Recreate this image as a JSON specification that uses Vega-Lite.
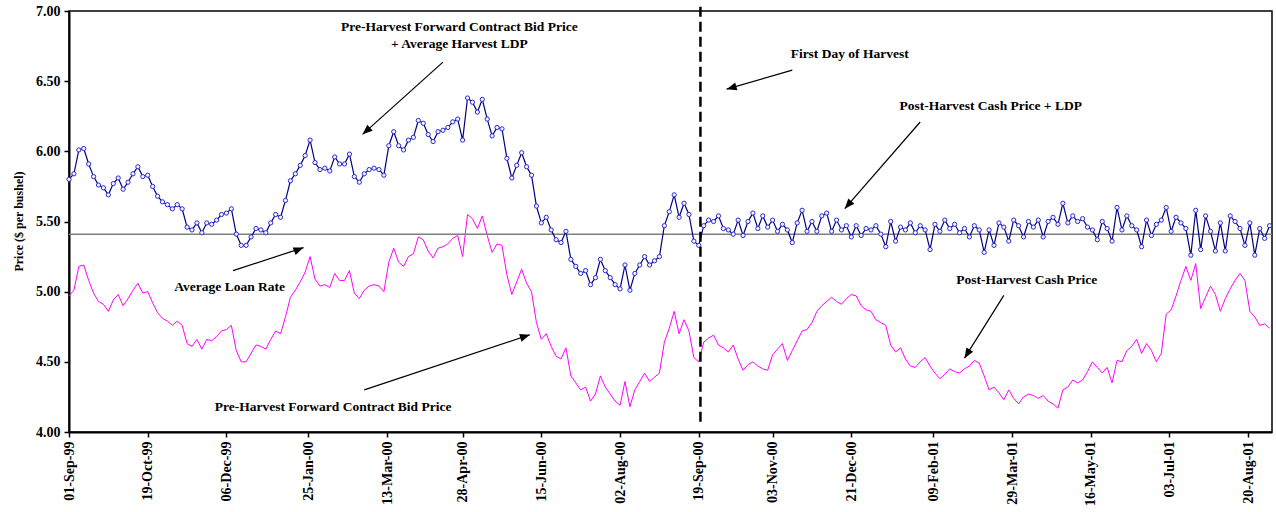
{
  "$schema": "https://vega.github.io/schema/vega-lite/v6.json",
  "width": 1203,
  "height": 421,
  "autosize": {"type": "none"},
  "padding": {"left": 69, "top": 11, "right": 4, "bottom": 80},
  "background": "white",
  "config": {
    "view": {"stroke": "black", "strokeWidth": 1.5},
    "axis": {
      "labelFont": "Liberation Serif", "labelFontWeight": "bold", "labelColor": "black",
      "titleFont": "Liberation Serif", "titleFontWeight": "bold", "titleColor": "black",
      "domainColor": "black", "domainWidth": 2, "tickColor": "black", "tickWidth": 1.5,
      "tickSize": 5, "grid": false
    },
    "text": {"font": "Liberation Serif", "fontWeight": "bold", "fontSize": 13.5, "color": "black"}
  },
  "datasets": {
    "prices": [
      {"date":"1999-09-01","magenta":4.97,"blue":5.80},
      {"date":"1999-09-04","magenta":5.01,"blue":5.84},
      {"date":"1999-09-07","magenta":5.18,"blue":6.01},
      {"date":"1999-09-10","magenta":5.19,"blue":6.02},
      {"date":"1999-09-13","magenta":5.08,"blue":5.91},
      {"date":"1999-09-16","magenta":4.99,"blue":5.82},
      {"date":"1999-09-19","magenta":4.93,"blue":5.76},
      {"date":"1999-09-22","magenta":4.91,"blue":5.74},
      {"date":"1999-09-25","magenta":4.86,"blue":5.69},
      {"date":"1999-09-28","magenta":4.94,"blue":5.77},
      {"date":"1999-10-01","magenta":4.98,"blue":5.81},
      {"date":"1999-10-04","magenta":4.90,"blue":5.73},
      {"date":"1999-10-07","magenta":4.95,"blue":5.78},
      {"date":"1999-10-10","magenta":5.01,"blue":5.84},
      {"date":"1999-10-13","magenta":5.06,"blue":5.89},
      {"date":"1999-10-16","magenta":4.99,"blue":5.82},
      {"date":"1999-10-19","magenta":5.00,"blue":5.83},
      {"date":"1999-10-22","magenta":4.92,"blue":5.75},
      {"date":"1999-10-25","magenta":4.85,"blue":5.68},
      {"date":"1999-10-28","magenta":4.81,"blue":5.64},
      {"date":"1999-10-31","magenta":4.79,"blue":5.62},
      {"date":"1999-11-03","magenta":4.76,"blue":5.59},
      {"date":"1999-11-06","magenta":4.79,"blue":5.62},
      {"date":"1999-11-09","magenta":4.76,"blue":5.59},
      {"date":"1999-11-12","magenta":4.63,"blue":5.46},
      {"date":"1999-11-15","magenta":4.61,"blue":5.44},
      {"date":"1999-11-18","magenta":4.66,"blue":5.49},
      {"date":"1999-11-21","magenta":4.59,"blue":5.42},
      {"date":"1999-11-24","magenta":4.66,"blue":5.49},
      {"date":"1999-11-27","magenta":4.65,"blue":5.48},
      {"date":"1999-11-30","magenta":4.68,"blue":5.51},
      {"date":"1999-12-03","magenta":4.72,"blue":5.55},
      {"date":"1999-12-06","magenta":4.73,"blue":5.56},
      {"date":"1999-12-09","magenta":4.76,"blue":5.59},
      {"date":"1999-12-12","magenta":4.58,"blue":5.41},
      {"date":"1999-12-15","magenta":4.50,"blue":5.33},
      {"date":"1999-12-18","magenta":4.50,"blue":5.33},
      {"date":"1999-12-21","magenta":4.56,"blue":5.39},
      {"date":"1999-12-24","magenta":4.62,"blue":5.45},
      {"date":"1999-12-27","magenta":4.61,"blue":5.44},
      {"date":"1999-12-30","magenta":4.59,"blue":5.42},
      {"date":"2000-01-02","magenta":4.66,"blue":5.49},
      {"date":"2000-01-05","magenta":4.72,"blue":5.55},
      {"date":"2000-01-08","magenta":4.70,"blue":5.53},
      {"date":"2000-01-11","magenta":4.82,"blue":5.65},
      {"date":"2000-01-14","magenta":4.96,"blue":5.79},
      {"date":"2000-01-17","magenta":5.01,"blue":5.84},
      {"date":"2000-01-20","magenta":5.07,"blue":5.90},
      {"date":"2000-01-23","magenta":5.14,"blue":5.97},
      {"date":"2000-01-26","magenta":5.25,"blue":6.08},
      {"date":"2000-01-29","magenta":5.09,"blue":5.92},
      {"date":"2000-02-01","magenta":5.04,"blue":5.87},
      {"date":"2000-02-04","magenta":5.05,"blue":5.88},
      {"date":"2000-02-07","magenta":5.03,"blue":5.86},
      {"date":"2000-02-10","magenta":5.13,"blue":5.96},
      {"date":"2000-02-13","magenta":5.08,"blue":5.91},
      {"date":"2000-02-16","magenta":5.08,"blue":5.91},
      {"date":"2000-02-19","magenta":5.15,"blue":5.98},
      {"date":"2000-02-22","magenta":4.99,"blue":5.82},
      {"date":"2000-02-25","magenta":4.95,"blue":5.78},
      {"date":"2000-02-28","magenta":5.01,"blue":5.84},
      {"date":"2000-03-02","magenta":5.04,"blue":5.87},
      {"date":"2000-03-05","magenta":5.05,"blue":5.88},
      {"date":"2000-03-08","magenta":5.04,"blue":5.87},
      {"date":"2000-03-11","magenta":5.00,"blue":5.83},
      {"date":"2000-03-14","magenta":5.21,"blue":6.04},
      {"date":"2000-03-17","magenta":5.31,"blue":6.14},
      {"date":"2000-03-20","magenta":5.21,"blue":6.04},
      {"date":"2000-03-23","magenta":5.18,"blue":6.01},
      {"date":"2000-03-26","magenta":5.25,"blue":6.08},
      {"date":"2000-03-29","magenta":5.27,"blue":6.10},
      {"date":"2000-04-01","magenta":5.39,"blue":6.22},
      {"date":"2000-04-04","magenta":5.37,"blue":6.20},
      {"date":"2000-04-07","magenta":5.29,"blue":6.12},
      {"date":"2000-04-10","magenta":5.24,"blue":6.07},
      {"date":"2000-04-13","magenta":5.31,"blue":6.14},
      {"date":"2000-04-16","magenta":5.32,"blue":6.15},
      {"date":"2000-04-19","magenta":5.34,"blue":6.17},
      {"date":"2000-04-22","magenta":5.38,"blue":6.21},
      {"date":"2000-04-25","magenta":5.40,"blue":6.23},
      {"date":"2000-04-28","magenta":5.25,"blue":6.08},
      {"date":"2000-05-01","magenta":5.55,"blue":6.38},
      {"date":"2000-05-04","magenta":5.52,"blue":6.35},
      {"date":"2000-05-07","magenta":5.45,"blue":6.28},
      {"date":"2000-05-10","magenta":5.54,"blue":6.37},
      {"date":"2000-05-13","magenta":5.40,"blue":6.23},
      {"date":"2000-05-16","magenta":5.28,"blue":6.11},
      {"date":"2000-05-19","magenta":5.34,"blue":6.17},
      {"date":"2000-05-22","magenta":5.33,"blue":6.16},
      {"date":"2000-05-25","magenta":5.12,"blue":5.95},
      {"date":"2000-05-28","magenta":4.98,"blue":5.81},
      {"date":"2000-05-31","magenta":5.07,"blue":5.90},
      {"date":"2000-06-03","magenta":5.16,"blue":5.99},
      {"date":"2000-06-06","magenta":5.06,"blue":5.89},
      {"date":"2000-06-09","magenta":5.00,"blue":5.83},
      {"date":"2000-06-12","magenta":4.78,"blue":5.61},
      {"date":"2000-06-15","magenta":4.66,"blue":5.49},
      {"date":"2000-06-18","magenta":4.70,"blue":5.53},
      {"date":"2000-06-21","magenta":4.61,"blue":5.44},
      {"date":"2000-06-24","magenta":4.54,"blue":5.37},
      {"date":"2000-06-27","magenta":4.52,"blue":5.35},
      {"date":"2000-06-30","magenta":4.60,"blue":5.43},
      {"date":"2000-07-03","magenta":4.40,"blue":5.23},
      {"date":"2000-07-06","magenta":4.35,"blue":5.18},
      {"date":"2000-07-09","magenta":4.30,"blue":5.13},
      {"date":"2000-07-12","magenta":4.32,"blue":5.15},
      {"date":"2000-07-15","magenta":4.22,"blue":5.05},
      {"date":"2000-07-18","magenta":4.27,"blue":5.10},
      {"date":"2000-07-21","magenta":4.40,"blue":5.23},
      {"date":"2000-07-24","magenta":4.32,"blue":5.15},
      {"date":"2000-07-27","magenta":4.27,"blue":5.10},
      {"date":"2000-07-30","magenta":4.22,"blue":5.05},
      {"date":"2000-08-02","magenta":4.19,"blue":5.02},
      {"date":"2000-08-05","magenta":4.36,"blue":5.19},
      {"date":"2000-08-08","magenta":4.18,"blue":5.01},
      {"date":"2000-08-11","magenta":4.30,"blue":5.13},
      {"date":"2000-08-14","magenta":4.36,"blue":5.19},
      {"date":"2000-08-17","magenta":4.42,"blue":5.25},
      {"date":"2000-08-20","magenta":4.36,"blue":5.19},
      {"date":"2000-08-23","magenta":4.39,"blue":5.22},
      {"date":"2000-08-26","magenta":4.42,"blue":5.25},
      {"date":"2000-08-29","magenta":4.64,"blue":5.47},
      {"date":"2000-09-01","magenta":4.74,"blue":5.57},
      {"date":"2000-09-04","magenta":4.86,"blue":5.69},
      {"date":"2000-09-07","magenta":4.70,"blue":5.53},
      {"date":"2000-09-10","magenta":4.80,"blue":5.63},
      {"date":"2000-09-13","magenta":4.72,"blue":5.55},
      {"date":"2000-09-16","magenta":4.53,"blue":5.36},
      {"date":"2000-09-19","magenta":4.50,"blue":5.33},
      {"date":"2000-09-22","magenta":4.64,"blue":5.47},
      {"date":"2000-09-25","magenta":4.67,"blue":5.51},
      {"date":"2000-09-28","magenta":4.69,"blue":5.50},
      {"date":"2000-10-01","magenta":4.62,"blue":5.54},
      {"date":"2000-10-04","magenta":4.60,"blue":5.45},
      {"date":"2000-10-07","magenta":4.57,"blue":5.44},
      {"date":"2000-10-10","magenta":4.62,"blue":5.41},
      {"date":"2000-10-13","magenta":4.52,"blue":5.51},
      {"date":"2000-10-16","magenta":4.44,"blue":5.40},
      {"date":"2000-10-19","magenta":4.48,"blue":5.50},
      {"date":"2000-10-22","magenta":4.50,"blue":5.56},
      {"date":"2000-10-25","magenta":4.47,"blue":5.45},
      {"date":"2000-10-28","magenta":4.45,"blue":5.54},
      {"date":"2000-10-31","magenta":4.44,"blue":5.46},
      {"date":"2000-11-03","magenta":4.55,"blue":5.51},
      {"date":"2000-11-06","magenta":4.59,"blue":5.43},
      {"date":"2000-11-09","magenta":4.63,"blue":5.48},
      {"date":"2000-11-12","magenta":4.51,"blue":5.44},
      {"date":"2000-11-15","magenta":4.58,"blue":5.35},
      {"date":"2000-11-18","magenta":4.65,"blue":5.49},
      {"date":"2000-11-21","magenta":4.72,"blue":5.58},
      {"date":"2000-11-24","magenta":4.73,"blue":5.43},
      {"date":"2000-11-27","magenta":4.78,"blue":5.50},
      {"date":"2000-11-30","magenta":4.86,"blue":5.43},
      {"date":"2000-12-03","magenta":4.90,"blue":5.54},
      {"date":"2000-12-06","magenta":4.93,"blue":5.56},
      {"date":"2000-12-09","magenta":4.96,"blue":5.43},
      {"date":"2000-12-12","magenta":4.93,"blue":5.51},
      {"date":"2000-12-15","magenta":4.91,"blue":5.44},
      {"date":"2000-12-18","magenta":4.95,"blue":5.47},
      {"date":"2000-12-21","magenta":4.98,"blue":5.39},
      {"date":"2000-12-24","magenta":4.97,"blue":5.47},
      {"date":"2000-12-27","magenta":4.90,"blue":5.40},
      {"date":"2000-12-30","magenta":4.87,"blue":5.45},
      {"date":"2001-01-02","magenta":4.86,"blue":5.44},
      {"date":"2001-01-05","magenta":4.80,"blue":5.47},
      {"date":"2001-01-08","magenta":4.78,"blue":5.41},
      {"date":"2001-01-11","magenta":4.76,"blue":5.32},
      {"date":"2001-01-14","magenta":4.62,"blue":5.50},
      {"date":"2001-01-17","magenta":4.57,"blue":5.36},
      {"date":"2001-01-20","magenta":4.60,"blue":5.46},
      {"date":"2001-01-23","magenta":4.52,"blue":5.44},
      {"date":"2001-01-26","magenta":4.47,"blue":5.49},
      {"date":"2001-01-29","magenta":4.46,"blue":5.42},
      {"date":"2001-02-01","magenta":4.50,"blue":5.47},
      {"date":"2001-02-04","magenta":4.53,"blue":5.44},
      {"date":"2001-02-07","magenta":4.47,"blue":5.30},
      {"date":"2001-02-10","magenta":4.42,"blue":5.48},
      {"date":"2001-02-13","magenta":4.38,"blue":5.43},
      {"date":"2001-02-16","magenta":4.41,"blue":5.51},
      {"date":"2001-02-19","magenta":4.45,"blue":5.45},
      {"date":"2001-02-22","magenta":4.43,"blue":5.48},
      {"date":"2001-02-25","magenta":4.42,"blue":5.42},
      {"date":"2001-02-28","magenta":4.45,"blue":5.45},
      {"date":"2001-03-03","magenta":4.47,"blue":5.39},
      {"date":"2001-03-06","magenta":4.51,"blue":5.47},
      {"date":"2001-03-09","magenta":4.49,"blue":5.44},
      {"date":"2001-03-12","magenta":4.40,"blue":5.28},
      {"date":"2001-03-15","magenta":4.30,"blue":5.44},
      {"date":"2001-03-18","magenta":4.32,"blue":5.33},
      {"date":"2001-03-21","magenta":4.28,"blue":5.49},
      {"date":"2001-03-24","magenta":4.23,"blue":5.46},
      {"date":"2001-03-27","magenta":4.30,"blue":5.36},
      {"date":"2001-03-30","magenta":4.24,"blue":5.51},
      {"date":"2001-04-02","magenta":4.20,"blue":5.47},
      {"date":"2001-04-05","magenta":4.25,"blue":5.39},
      {"date":"2001-04-08","magenta":4.27,"blue":5.50},
      {"date":"2001-04-11","magenta":4.26,"blue":5.46},
      {"date":"2001-04-14","magenta":4.24,"blue":5.51},
      {"date":"2001-04-17","magenta":4.26,"blue":5.39},
      {"date":"2001-04-20","magenta":4.22,"blue":5.50},
      {"date":"2001-04-23","magenta":4.20,"blue":5.53},
      {"date":"2001-04-26","magenta":4.17,"blue":5.48},
      {"date":"2001-04-29","magenta":4.30,"blue":5.63},
      {"date":"2001-05-02","magenta":4.32,"blue":5.49},
      {"date":"2001-05-05","magenta":4.37,"blue":5.54},
      {"date":"2001-05-08","magenta":4.35,"blue":5.50},
      {"date":"2001-05-11","magenta":4.37,"blue":5.52},
      {"date":"2001-05-14","magenta":4.43,"blue":5.46},
      {"date":"2001-05-17","magenta":4.50,"blue":5.44},
      {"date":"2001-05-20","magenta":4.46,"blue":5.37},
      {"date":"2001-05-23","magenta":4.42,"blue":5.50},
      {"date":"2001-05-26","magenta":4.46,"blue":5.45},
      {"date":"2001-05-29","magenta":4.35,"blue":5.36},
      {"date":"2001-06-01","magenta":4.51,"blue":5.60},
      {"date":"2001-06-04","magenta":4.50,"blue":5.44},
      {"date":"2001-06-07","magenta":4.58,"blue":5.54},
      {"date":"2001-06-10","magenta":4.61,"blue":5.47},
      {"date":"2001-06-13","magenta":4.66,"blue":5.44},
      {"date":"2001-06-16","magenta":4.56,"blue":5.32},
      {"date":"2001-06-19","magenta":4.63,"blue":5.51},
      {"date":"2001-06-22","magenta":4.58,"blue":5.40},
      {"date":"2001-06-25","magenta":4.50,"blue":5.48},
      {"date":"2001-06-28","magenta":4.56,"blue":5.51},
      {"date":"2001-07-01","magenta":4.84,"blue":5.60},
      {"date":"2001-07-04","magenta":4.87,"blue":5.43},
      {"date":"2001-07-07","magenta":4.97,"blue":5.53},
      {"date":"2001-07-10","magenta":5.08,"blue":5.49},
      {"date":"2001-07-13","magenta":5.18,"blue":5.45},
      {"date":"2001-07-16","magenta":5.08,"blue":5.26},
      {"date":"2001-07-19","magenta":5.20,"blue":5.58},
      {"date":"2001-07-22","magenta":4.88,"blue":5.30},
      {"date":"2001-07-25","magenta":4.96,"blue":5.54},
      {"date":"2001-07-28","magenta":5.04,"blue":5.43},
      {"date":"2001-07-31","magenta":4.98,"blue":5.29},
      {"date":"2001-08-03","magenta":4.86,"blue":5.49},
      {"date":"2001-08-06","magenta":4.95,"blue":5.29},
      {"date":"2001-08-09","magenta":5.02,"blue":5.54},
      {"date":"2001-08-12","magenta":5.08,"blue":5.50},
      {"date":"2001-08-15","magenta":5.13,"blue":5.45},
      {"date":"2001-08-18","magenta":5.08,"blue":5.33},
      {"date":"2001-08-21","magenta":4.86,"blue":5.49},
      {"date":"2001-08-24","magenta":4.82,"blue":5.26},
      {"date":"2001-08-27","magenta":4.76,"blue":5.45},
      {"date":"2001-08-30","magenta":4.77,"blue":5.38},
      {"date":"2001-09-02","magenta":4.74,"blue":5.47}
    ],
    "notes": [
      {"label":"Pre-Harvest Forward Contract Bid Price","date":"2000-04-26","value":6.886},
      {"label":"+  Average Harvest LDP","date":"2000-04-26","value":6.764},
      {"label":"First Day of Harvest","date":"2000-12-20","value":6.693},
      {"label":"Post-Harvest Cash Price + LDP","date":"2001-03-16","value":6.324},
      {"label":"Average Loan Rate","date":"1999-12-08","value":5.031},
      {"label":"Pre-Harvest Forward Contract Bid Price","date":"2000-02-09","value":4.181},
      {"label":"Post-Harvest Cash Price","date":"2001-04-07","value":5.086}
    ],
    "arrows": [
      {"id":1,"date":"2000-04-16","value":6.636,"date2":"2000-02-27","value2":6.121},
      {"id":2,"date":"2000-11-15","value":6.579,"date2":"2000-10-06","value2":6.443},
      {"id":3,"date":"2001-02-01","value":6.209,"date2":"2000-12-17","value2":5.591},
      {"id":4,"date":"1999-12-10","value":5.15,"date2":"2000-01-22","value2":5.314},
      {"id":5,"date":"2000-02-28","value":4.30,"date2":"2000-06-08","value2":4.693},
      {"id":6,"date":"2001-03-24","value":4.974,"date2":"2001-02-28","value2":4.526}
    ]
  },
  "layer": [
    {
      "data": {"name": "prices"},
      "mark": {"type": "line", "color": "#ff00ff", "strokeWidth": 1},
      "encoding": {
        "x": {
          "field": "date", "type": "temporal",
          "scale": {"type": "utc", "nice": false, "domain": [
            {"year": 1999, "month": 9, "date": 1, "utc": true},
            {"year": 2001, "month": 9, "date": 3, "hours": 12, "utc": true}
          ]},
          "axis": {
            "title": null,
            "labelExpr": "utcFormat(datum.value, '%d-%b-%y')",
            "labelAngle": 270, "labelFontSize": 14, "labelPadding": 4,
            "values": [
              {"year": 1999, "month": 9, "date": 1, "utc": true},
              {"year": 1999, "month": 10, "date": 19, "utc": true},
              {"year": 1999, "month": 12, "date": 6, "utc": true},
              {"year": 2000, "month": 1, "date": 25, "utc": true},
              {"year": 2000, "month": 3, "date": 13, "utc": true},
              {"year": 2000, "month": 4, "date": 28, "utc": true},
              {"year": 2000, "month": 6, "date": 15, "utc": true},
              {"year": 2000, "month": 8, "date": 2, "utc": true},
              {"year": 2000, "month": 9, "date": 19, "utc": true},
              {"year": 2000, "month": 11, "date": 3, "utc": true},
              {"year": 2000, "month": 12, "date": 21, "utc": true},
              {"year": 2001, "month": 2, "date": 9, "utc": true},
              {"year": 2001, "month": 3, "date": 29, "utc": true},
              {"year": 2001, "month": 5, "date": 16, "utc": true},
              {"year": 2001, "month": 7, "date": 3, "utc": true},
              {"year": 2001, "month": 8, "date": 20, "utc": true}
            ]
          }
        },
        "y": {
          "field": "magenta", "type": "quantitative",
          "scale": {"domain": [4, 7], "nice": false, "zero": false},
          "axis": {
            "title": "Price ($ per bushel)", "values": [4, 4.5, 5, 5.5, 6, 6.5, 7],
            "format": ".2f", "labelFontSize": 14, "labelPadding": 4,
            "titleFontSize": 12, "titleAngle": 270, "titleX": -51, "titleY": 210,
            "titleAlign": "center", "titleBaseline": "middle"
          }
        }
      }
    },
    {
      "data": {"values": [{}]},
      "mark": {"type": "rule", "color": "#7f7f7f", "strokeWidth": 1.5},
      "encoding": {"y": {"datum": 5.41, "type": "quantitative"}}
    },
    {
      "data": {"name": "prices"},
      "mark": {"type": "line", "color": "#000080", "strokeWidth": 1.2},
      "encoding": {
        "x": {"field": "date", "type": "temporal"},
        "y": {"field": "blue", "type": "quantitative"}
      }
    },
    {
      "data": {"name": "prices"},
      "mark": {"type": "point", "shape": "circle", "size": 18, "filled": false, "fill": "#f2f2ff", "fillOpacity": 1, "stroke": "#2b2bd0", "strokeWidth": 1, "opacity": 1},
      "encoding": {
        "x": {"field": "date", "type": "temporal"},
        "y": {"field": "blue", "type": "quantitative"}
      }
    },
    {
      "data": {"values": [{}]},
      "mark": {"type": "rule", "color": "black", "strokeWidth": 2.5, "strokeDash": [10, 5]},
      "encoding": {
        "x": {"datum": {"year": 2000, "month": 9, "date": 20, "utc": true}, "type": "temporal"},
        "y": {"datum": 7.03, "type": "quantitative"},
        "y2": {"datum": 4.06}
      }
    },
    {
      "data": {"name": "arrows", "format": {"parse": {"date": "date", "date2": "date"}}},
      "mark": {"type": "rule", "color": "black", "strokeWidth": 1.2},
      "encoding": {
        "x": {"field": "date", "type": "temporal"},
        "x2": {"field": "date2"},
        "y": {"field": "value", "type": "quantitative"},
        "y2": {"field": "value2"}
      }
    },
    {
      "data": {"name": "arrows", "format": {"parse": {"date2": "date"}}},
      "transform": [{"filter": "datum.id == 1"}],
      "mark": {"type": "point", "shape": "M0,0L-0.8,2L0.8,2Z", "size": 100, "filled": true, "color": "black", "opacity": 1, "angle": 228},
      "encoding": {
        "x": {"field": "date2", "type": "temporal"},
        "y": {"field": "value2", "type": "quantitative"}
      }
    },
    {
      "data": {"name": "arrows", "format": {"parse": {"date2": "date"}}},
      "transform": [{"filter": "datum.id == 2"}],
      "mark": {"type": "point", "shape": "M0,0L-0.8,2L0.8,2Z", "size": 100, "filled": true, "color": "black", "opacity": 1, "angle": 254},
      "encoding": {
        "x": {"field": "date2", "type": "temporal"},
        "y": {"field": "value2", "type": "quantitative"}
      }
    },
    {
      "data": {"name": "arrows", "format": {"parse": {"date2": "date"}}},
      "transform": [{"filter": "datum.id == 3"}],
      "mark": {"type": "point", "shape": "M0,0L-0.8,2L0.8,2Z", "size": 100, "filled": true, "color": "black", "opacity": 1, "angle": 221},
      "encoding": {
        "x": {"field": "date2", "type": "temporal"},
        "y": {"field": "value2", "type": "quantitative"}
      }
    },
    {
      "data": {"name": "arrows", "format": {"parse": {"date2": "date"}}},
      "transform": [{"filter": "datum.id == 4"}],
      "mark": {"type": "point", "shape": "M0,0L-0.8,2L0.8,2Z", "size": 100, "filled": true, "color": "black", "opacity": 1, "angle": 69},
      "encoding": {
        "x": {"field": "date2", "type": "temporal"},
        "y": {"field": "value2", "type": "quantitative"}
      }
    },
    {
      "data": {"name": "arrows", "format": {"parse": {"date2": "date"}}},
      "transform": [{"filter": "datum.id == 5"}],
      "mark": {"type": "point", "shape": "M0,0L-0.8,2L0.8,2Z", "size": 100, "filled": true, "color": "black", "opacity": 1, "angle": 72},
      "encoding": {
        "x": {"field": "date2", "type": "temporal"},
        "y": {"field": "value2", "type": "quantitative"}
      }
    },
    {
      "data": {"name": "arrows", "format": {"parse": {"date2": "date"}}},
      "transform": [{"filter": "datum.id == 6"}],
      "mark": {"type": "point", "shape": "M0,0L-0.8,2L0.8,2Z", "size": 100, "filled": true, "color": "black", "opacity": 1, "angle": 212},
      "encoding": {
        "x": {"field": "date2", "type": "temporal"},
        "y": {"field": "value2", "type": "quantitative"}
      }
    },
    {
      "data": {"name": "notes"},
      "mark": {"type": "text", "align": "center", "baseline": "middle"},
      "encoding": {
        "x": {"field": "date", "type": "temporal"},
        "y": {"field": "value", "type": "quantitative"},
        "text": {"field": "label"}
      }
    }
  ]
}
